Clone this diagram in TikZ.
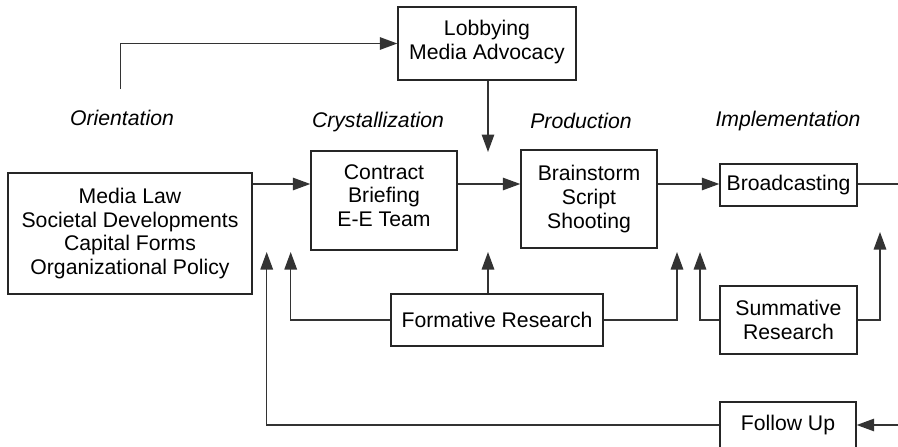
\documentclass[tikz,border=0pt]{standalone}
\usepackage{fontspec}
\setmainfont{Liberation Sans}
\usetikzlibrary{arrows.meta}
\begin{document}
\begin{tikzpicture}[x=1pt,y=-1pt,
  every node/.style={font=\fontsize{21.2}{23.7}\selectfont, text=black},
  box/.style={draw=black!85, line width=1.4pt, rectangle, align=center, inner sep=0pt},
  phase/.style={font=\fontsize{21.2}{23.7}\selectfont\itshape},
  arr/.style={draw=black!80, line width=1.4pt, -{Triangle[length=17.5pt,width=12.5pt]}},
  ln/.style={draw=black!80, line width=1.4pt}]
\useasboundingbox (0,0) rectangle (898,447);
% boxes
\node[box, minimum width=244pt, minimum height=121pt] (media) at (130,233.5)
  {Media Law\\Societal Developments\\Capital Forms\\Organizational Policy};
\node[box, minimum width=146pt, minimum height=99pt, text depth=10pt] (contract) at (384,200.5)
  {Contract\\Briefing\\E-E Team};
\node[box, minimum width=136pt, minimum height=98pt] (brain) at (589,199)
  {Brainstorm\\Script\\Shooting};
\node[box, minimum width=137pt, minimum height=42pt] (broad) at (788.5,185) {Broadcasting};
\node[box, minimum width=178pt, minimum height=73pt, text depth=8pt] (lobby) at (487,43.5)
  {Lobbying\\Media Advocacy};
\node[box, minimum width=212pt, minimum height=52pt] (form) at (497,320) {Formative Research};
\node[box, minimum width=137pt, minimum height=68pt] (summ) at (788.5,320) {Summative\\Research};
\node[box, minimum width=136pt, minimum height=46pt] (follow) at (788,425) {Follow Up};
% phase labels
\node[phase] (orient) at (122,118) {Orientation};
\node[phase] (cryst) at (378,122) {Crystallization};
\node[phase] (prod) at (581,121) {Production};
\node[phase] (impl) at (788,121) {Implementation};
% free-end coordinates
\coordinate (ostart) at (120.7,89);
\coordinate (lobtip) at (488,152);
\coordinate (broadend) at (898,184);
\coordinate (tipA) at (266.7,252);
\coordinate (tipB) at (290.7,252);
\coordinate (tipC) at (488,252);
\coordinate (tipD) at (677,252);
\coordinate (tipE) at (700,252);
\coordinate (tipF) at (880,232);
\coordinate (fustart) at (898,425);
% connectors
\draw[arr] (ostart) |- (lobby.west);
\draw[arr] (lobby.south -| lobtip) -- (lobtip);
\draw[arr] (media.east |- broadend) -- (contract.west |- broadend);
\draw[arr] (contract.east |- broadend) -- (brain.west |- broadend);
\draw[arr] (brain.east |- broadend) -- (broad.west |- broadend);
\draw[ln] (broad.east |- broadend) -- (broadend);
\draw[arr] (form.north -| tipC) -- (tipC);
\draw[arr] (form.west) -| (tipB);
\draw[arr] (form.east) -| (tipD);
\draw[arr] (summ.west) -| (tipE);
\draw[arr] (summ.east) -| (tipF);
\draw[arr] (follow.west) -| (tipA);
\draw[arr] (fustart) -- (follow.east);
\end{tikzpicture}
\end{document}
